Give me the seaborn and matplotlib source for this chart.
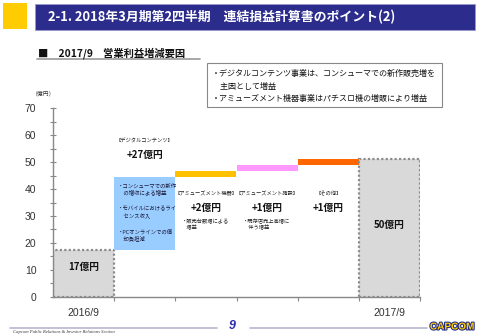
import numpy as np
import pandas as pd
import matplotlib
matplotlib.use("Agg")
import matplotlib.pyplot as plt
import seaborn as sns
from matplotlib.patches import Rectangle
from matplotlib.lines import Line2D
import matplotlib.patheffects as pe

# ---------------- data ----------------
categories = ["2016/9", "デジタルコンテンツ", "アミューズメント機器",
              "アミューズメント施設", "その他", "2017/9"]
start_value = 17.3
deltas = [27.3, 2.2, 2.2, 2.1]
end_value = 51.1
bar_labels = ["17億円", "+27億円", "+2億円", "+1億円", "+1億円", "50億円"]
segment_titles = ["", "【デジタルコンテンツ】", "【アミューズメント機器】",
                  "【アミューズメント施設】", "【その他】", ""]
segment_notes = ["", "", "・販売台数増による\n　増益", "・既存店売上高増に\n　伴う増益", "", ""]
digital_notes = ["・コンシューマでの新作\n　の増収による増益",
                 "・モバイルにおけるライ\n　センス収入",
                 "・PCオンラインでの償\n　却負担減"]
bar_colors = ["#D9D9D9", "#99CCFF", "#FFC000", "#FF99FF", "#FF6600", "#D9D9D9"]
x_tick_labels = ["2016/9", "2017/9"]
y_ticks = [0, 10, 20, 30, 40, 50, 60, 70]
title_text = "2-1. 2018年3月期第2四半期　連結損益計算書のポイント(2)"
subtitle_text = "■　2017/9　営業利益増減要因"
box_lines = ["・デジタルコンテンツ事業は、コンシューマでの新作販売増を",
             "　主因として増益",
             "・アミューズメント機器事業はパチスロ機の増販により増益"]

# derived
tops = start_value + np.cumsum(deltas)
bases = [0.0, start_value] + list(tops[:-1]) + [0.0]
heights = [start_value] + deltas + [end_value]

sns.set_theme(style="white")
plt.rcParams["font.family"] = ["Noto Sans CJK JP", "DejaVu Sans"]

W, H = 480, 336
fig = plt.figure(figsize=(4.8, 3.36), dpi=100)
fx = lambda x: x / W
fy = lambda y: 1 - y / H

ax = fig.add_axes([fx(53), fy(296.7), (420 - 53) / W, (296.7 - 108.3) / H])
df = pd.DataFrame({"cat": categories, "height": heights})
sns.barplot(data=df, x="cat", y="height", bottom=bases, width=1.0, ax=ax,
            color="#cccccc", saturation=1, linewidth=0)
for i, (p, c) in enumerate(zip(ax.patches, bar_colors)):
    p.set_facecolor(c)
    if i in (0, len(categories) - 1):
        p.set_edgecolor("#8C8C8C")
        p.set_linewidth(1.6)
        p.set_linestyle((0, (1, 1)))
    else:
        p.set_edgecolor("none")

ax.set_xlim(-0.5, len(categories) - 0.5)
ax.set_ylim(0, 70)
ax.set_xlabel("")
ax.set_ylabel("")
ax.set_yticks(y_ticks)
ax.set_yticklabels([str(v) for v in y_ticks], fontsize=7.5, color="#333333",
                   family=["Liberation Sans"])
ax.set_yticks(np.arange(5, 70, 10), minor=True)
ax.set_xticks([0, len(categories) - 1])
ax.set_xticklabels(x_tick_labels, fontsize=7.5, color="#333333", family=["Liberation Sans"])
ax.set_xticks(np.arange(0.5, len(categories), 1.0), minor=True)
ax.tick_params(axis="y", which="both", direction="inout", length=4, width=0.8,
               color="#888888", left=True, pad=10)
ax.tick_params(axis="x", which="major", length=0, pad=8)
ax.tick_params(axis="x", which="minor", direction="out", length=3, width=0.8,
               color="#888888", bottom=True)
for s in ["top", "right"]:
    ax.spines[s].set_visible(False)
for s in ["left", "bottom"]:
    ax.spines[s].set_color("#888888")
    ax.spines[s].set_linewidth(1.0)
ax.patch.set_alpha(0)

# annotations
for i in range(1, 5):
    yt = 58.0 if i == 1 else 38.3
    ax.text(i, yt, segment_titles[i], ha="center", va="center", fontsize=3.8,
            color="#222222")
    ax.text(i, yt - 5.2, bar_labels[i], ha="center", va="center", fontsize=7,
            fontweight="bold", color="#111111")
    if segment_notes[i]:
        ax.text(i - 0.4, yt - 11.6, segment_notes[i], ha="left", va="center",
                fontsize=3.8, color="#222222", linespacing=1.1)
ax.text(0, 11, bar_labels[0], ha="center", va="center", fontsize=7,
        fontweight="bold", color="#111111")
ax.text(5, 26.5, bar_labels[5], ha="center", va="center", fontsize=7,
        fontweight="bold", color="#111111")
for k, note in enumerate(digital_notes):
    ax.text(0.56, 40.0 - k * 8.6, note, ha="left", va="center", fontsize=3.9,
            color="#1a1a3a", linespacing=1.2)

ax.text(-0.66, 75.5, "（億円）", ha="center", va="center", fontsize=4.2,
        color="#333333", clip_on=False)

# header
fig.patches.append(Rectangle((fx(3), fy(29)), 24 / W, 26 / H, transform=fig.transFigure,
                             facecolor="#FFCC00", edgecolor="none"))
fig.patches.append(Rectangle((fx(35), fy(29.5)), 440 / W, 25.5 / H, transform=fig.transFigure,
                             facecolor="#2B2C8C", edgecolor="#9999CC", linewidth=0.6))
fig.text(fx(48), fy(16.5), title_text, color="white", fontsize=9.3, fontweight="bold",
         va="center", ha="left")
fig.text(fx(38), fy(53), subtitle_text, color="#111111", fontsize=7.4, fontweight="bold",
         va="center", ha="left")
fig.lines.append(Line2D([fx(37), fx(200)], [fy(58.5), fy(58.5)], transform=fig.transFigure,
                        color="#999999", linewidth=1.2))

# text box
fig.patches.append(Rectangle((fx(207), fy(107)), 235 / W, 44 / H, transform=fig.transFigure,
                             facecolor="white", edgecolor="#888888", linewidth=0.8))
for k, line in enumerate(box_lines):
    fig.text(fx(212), fy(73.5 + k * 12.5), line, fontsize=5.8, color="#111111",
             va="center", ha="left")

# footer
for x0, x1 in [(10, 217), (250, 427)]:
    fig.lines.append(Line2D([fx(x0), fx(x1)], [fy(327.7), fy(327.7)], transform=fig.transFigure,
                            color="#B8B8D0", linewidth=1.2))
fig.text(fx(13), fy(331.5), "Capcom Public Relations & Investor Relations Section",
         fontsize=3.3, style="italic", family=["Liberation Serif"], color="#333333",
         va="center", ha="left")
fig.text(fx(232), fy(326), "9", fontsize=9, style="italic", fontweight="bold",
         color="#2B2CB0", va="center", ha="center", family=["Liberation Sans"])
fig.text(fx(452), fy(326.5), "CAPCOM", fontsize=7.2, fontweight="bold", color="#FFCC00",
         va="center", ha="center", family=["Liberation Sans"],
         path_effects=[pe.withStroke(linewidth=1.5, foreground="#1E2A8C")])

fig.savefig("out.png", dpi=100)
